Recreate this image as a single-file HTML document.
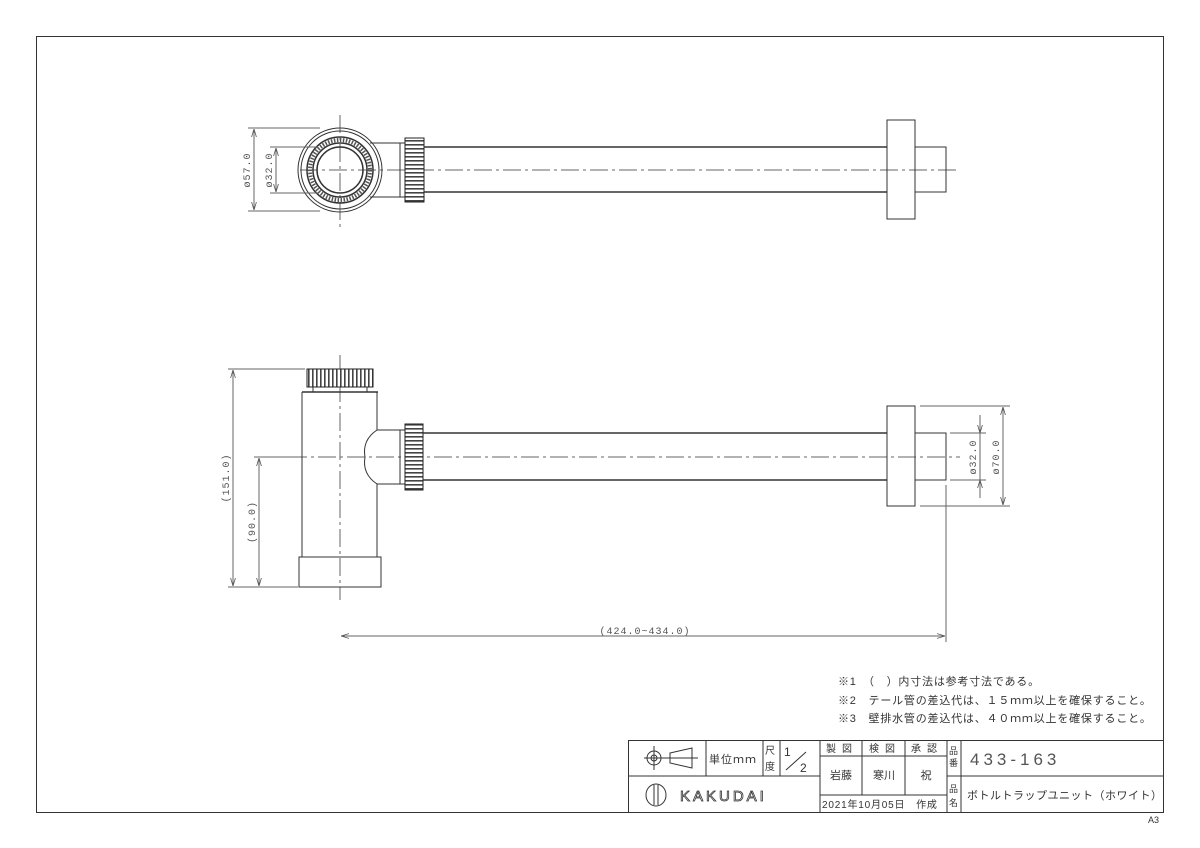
<!DOCTYPE html>
<html><head><meta charset="utf-8"><style>
html,body{margin:0;padding:0;background:#fff;}
svg{display:block;font-family:"Liberation Sans","Noto Sans CJK JP",sans-serif;}
</style></head><body>
<svg width="1200" height="848" viewBox="0 0 1200 848" xmlns="http://www.w3.org/2000/svg">
<defs>
<pattern id="vs" width="4" height="10" patternUnits="userSpaceOnUse"><rect width="4" height="10" fill="#fff"/><rect width="1.6" height="10" fill="#444"/></pattern>
<pattern id="hs" width="10" height="4" patternUnits="userSpaceOnUse"><rect width="10" height="4" fill="#fff"/><rect width="10" height="1.6" fill="#444"/></pattern>
<marker id="ar" viewBox="0 0 10 10" refX="10" refY="5" markerWidth="8" markerHeight="8" orient="auto-start-reverse"><path d="M0,2 L10,5 L0,8" fill="none" stroke="#555" stroke-width="1"/></marker>
</defs>
<g fill="none" stroke="#333" stroke-width="1">
<rect x="36.5" y="36.5" width="1127" height="776"/>

<!-- TOP VIEW -->
<line x1="300" y1="170" x2="960" y2="170" stroke="#666" stroke-dasharray="18,4,3,4"/>
<line x1="340" y1="115" x2="340" y2="230" stroke="#666" stroke-dasharray="18,4,3,4"/>
<circle cx="340" cy="170" r="42"/>
<circle cx="340" cy="170" r="39"/>
<circle cx="340" cy="170" r="33" stroke-width="1.5"/>
<circle cx="340" cy="170" r="30" stroke="#555" stroke-width="4" stroke-dasharray="1.5,1.5"/>
<circle cx="340" cy="170" r="27" stroke-width="1.5"/>
<circle cx="340" cy="170" r="23" stroke-width="1.5"/>
<line x1="370" y1="143" x2="400" y2="143"/><line x1="370" y1="197" x2="400" y2="197"/>
<rect x="400" y="143" width="5" height="54"/>
<rect x="405" y="138" width="19" height="64" fill="url(#hs)" stroke="#222"/>
<line x1="424" y1="147" x2="887" y2="147" stroke-width="1.5"/><line x1="424" y1="192" x2="887" y2="192" stroke-width="1.5"/>
<rect x="887" y="120" width="28" height="99"/>
<rect x="915" y="147" width="31" height="45"/>
<line x1="248" y1="128" x2="320" y2="128" stroke="#666"/><line x1="248" y1="211" x2="320" y2="211" stroke="#666"/>
<line x1="254" y1="129" x2="254" y2="210" stroke="#666" marker-start="url(#ar)" marker-end="url(#ar)"/>
<line x1="270" y1="147" x2="318" y2="147" stroke="#666"/><line x1="270" y1="193" x2="318" y2="193" stroke="#666"/>
<line x1="276" y1="148" x2="276" y2="192" stroke="#666" marker-start="url(#ar)" marker-end="url(#ar)"/>

<!-- FRONT VIEW -->
<line x1="260" y1="457" x2="960" y2="457" stroke="#666" stroke-dasharray="18,4,3,4"/>
<line x1="340" y1="355" x2="340" y2="600" stroke="#666" stroke-dasharray="18,4,3,4"/>
<rect x="307" y="369" width="66" height="18" fill="url(#vs)" stroke="#222"/>
<line x1="313" y1="387" x2="313" y2="392"/><line x1="367" y1="387" x2="367" y2="392"/>
<line x1="302" y1="392" x2="378" y2="392" stroke-width="1.5"/>
<line x1="302" y1="392" x2="302" y2="557"/><line x1="377" y1="392" x2="377" y2="430"/><line x1="377" y1="484" x2="377" y2="557"/>
<rect x="299" y="557" width="82" height="30"/>
<path d="M377,430 Q362,440 365,457 Q362,474 377,484"/>
<line x1="377" y1="430" x2="400" y2="430"/><line x1="377" y1="484" x2="400" y2="484"/>
<rect x="400" y="430" width="5" height="54"/>
<rect x="405" y="424" width="18" height="66" fill="url(#hs)" stroke="#222"/>
<line x1="423" y1="433" x2="887" y2="433" stroke-width="1.5"/><line x1="423" y1="480" x2="887" y2="480" stroke-width="1.5"/>
<rect x="887" y="406" width="28" height="100"/>
<rect x="915" y="433" width="31" height="47"/>
<line x1="228" y1="369" x2="305" y2="369" stroke="#666"/><line x1="228" y1="587" x2="298" y2="587" stroke="#666"/>
<line x1="233" y1="370" x2="233" y2="586" stroke="#666" marker-start="url(#ar)" marker-end="url(#ar)"/>
<line x1="254" y1="457" x2="300" y2="457" stroke="#666"/>
<line x1="259" y1="458" x2="259" y2="586" stroke="#666" marker-start="url(#ar)" marker-end="url(#ar)"/>
<line x1="920" y1="406" x2="1010" y2="406" stroke="#666"/><line x1="920" y1="506" x2="1010" y2="506" stroke="#666"/>
<line x1="1003" y1="407" x2="1003" y2="505" stroke="#666" marker-start="url(#ar)" marker-end="url(#ar)"/>
<line x1="950" y1="433" x2="986" y2="433" stroke="#666"/><line x1="950" y1="480" x2="986" y2="480" stroke="#666"/>
<line x1="980" y1="415" x2="980" y2="433" stroke="#666" marker-end="url(#ar)"/>
<line x1="980" y1="498" x2="980" y2="480" stroke="#666" marker-end="url(#ar)"/>
<line x1="980" y1="433" x2="980" y2="480" stroke="#666"/>
<line x1="946" y1="485" x2="946" y2="642" stroke="#666"/>
<line x1="341" y1="636" x2="945" y2="636" stroke="#666" marker-start="url(#ar)" marker-end="url(#ar)"/>

<!-- TITLE BLOCK -->
<rect x="628.5" y="740.5" width="535" height="72"/>
<line x1="628" y1="776" x2="820" y2="776"/>
<line x1="947" y1="776" x2="1163" y2="776"/>
<line x1="706" y1="740" x2="706" y2="776"/><line x1="763" y1="740" x2="763" y2="776"/><line x1="780" y1="740" x2="780" y2="776"/>
<line x1="820" y1="740" x2="820" y2="812"/>
<line x1="862" y1="740" x2="862" y2="795"/><line x1="905" y1="740" x2="905" y2="795"/>
<line x1="947" y1="740" x2="947" y2="812"/><line x1="961" y1="740" x2="961" y2="812"/>
<line x1="820" y1="756" x2="947" y2="756"/><line x1="820" y1="795" x2="947" y2="795"/>
<line x1="786" y1="770" x2="806" y2="752"/>
<circle cx="654" cy="758" r="7"/><circle cx="654" cy="758" r="3"/>
<line x1="644" y1="758" x2="698" y2="758"/><line x1="654" y1="746" x2="654" y2="770"/>
<path d="M670,753 L692,748 L692,768 L670,763 Z"/>
<ellipse cx="656" cy="795" rx="10" ry="11"/>
<line x1="654" y1="785" x2="654" y2="805"/><line x1="658" y1="785" x2="658" y2="805"/>
</g>
<g fill="#555" font-size="10" font-family="Liberation Mono, monospace" letter-spacing="1">
<text transform="translate(250,170) rotate(-90)" text-anchor="middle">ø57.0</text>
<text transform="translate(272,170) rotate(-90)" text-anchor="middle">ø32.0</text>
<text transform="translate(229,478) rotate(-90)" text-anchor="middle">(151.0)</text>
<text transform="translate(255,522) rotate(-90)" text-anchor="middle">(90.0)</text>
<text transform="translate(976,457) rotate(-90)" text-anchor="middle">ø32.0</text>
<text transform="translate(999,457) rotate(-90)" text-anchor="middle">ø70.0</text>
<text x="645" y="634" text-anchor="middle">(424.0~434.0)</text>
</g>
<g fill="#333" font-size="11">
<text x="838" y="685" letter-spacing="0.8">※1　（　）内寸法は参考寸法である。</text>
<text x="838" y="704" letter-spacing="0.8">※2　テール管の差込代は、１５ｍｍ以上を確保すること。</text>
<text x="838" y="722" letter-spacing="0.8">※3　壁排水管の差込代は、４０ｍｍ以上を確保すること。</text>
<text x="709" y="763" font-size="11" letter-spacing="1">単位ｍｍ</text>
<text x="765" y="754" font-size="10">尺</text><text x="765" y="770" font-size="10">度</text>
<text x="784" y="756" font-size="12">1</text><text x="800" y="772" font-size="12">2</text>
<text x="826" y="752" font-size="10" letter-spacing="6">製図</text>
<text x="869" y="752" font-size="10" letter-spacing="6">検図</text>
<text x="911" y="752" font-size="10" letter-spacing="6">承認</text>
<text x="841" y="779" font-size="11" text-anchor="middle">岩藤</text>
<text x="884" y="779" font-size="11" text-anchor="middle">寒川</text>
<text x="926" y="779" font-size="11" text-anchor="middle">祝</text>
<text x="822" y="808" font-size="10" letter-spacing="0.8">2021年10月05日　作成</text>
<text x="949" y="754" font-size="9">品</text><text x="949" y="766" font-size="9">番</text>
<text x="949" y="792" font-size="9">品</text><text x="949" y="806" font-size="9">名</text>
<text x="970" y="765" font-size="17" fill="#555" letter-spacing="4">433-163</text>
<text x="967" y="799" font-size="11" letter-spacing="0.5">ボトルトラップユニット（ホワイト）</text>
<text x="680" y="801" font-size="15" fill="#fff" stroke="#333" stroke-width="0.8" letter-spacing="3">KAKUDAI</text>
<text x="1148" y="823" font-size="9">A3</text>
</g>
</svg>
</body></html>
